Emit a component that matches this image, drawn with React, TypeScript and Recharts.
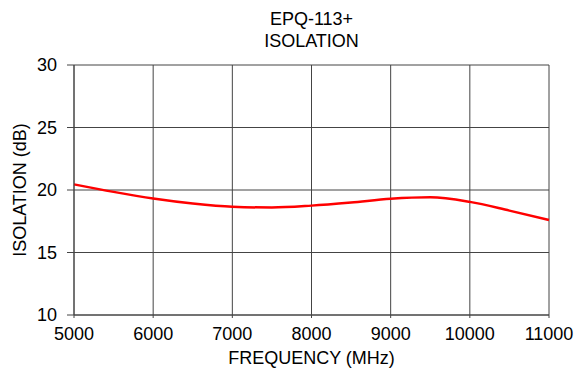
import React from "react";
import { LineChart, Line, XAxis, YAxis, CartesianGrid, Label } from "recharts";

const frequencies = [5000, 5500, 6000, 6500, 7000, 7500, 8000, 8500, 9000, 9500, 10000, 10500, 11000];
const isolation = [20.45, 19.85, 19.32, 18.92, 18.66, 18.6, 18.75, 19.0, 19.3, 19.42, 19.05, 18.35, 17.6];
const xTicks = [5000, 6000, 7000, 8000, 9000, 10000, 11000];
const yTicks = [10, 15, 20, 25, 30];
const titleLines = ["EPQ-113+", "ISOLATION"];

const data = frequencies.map((f, i) => ({ f, v: isolation[i] }));

const FONT = "'Liberation Sans', Arial, sans-serif";

export default function App() {
  return (
    <div style={{ position: "absolute", left: 0, top: 0, width: 577, height: 371, background: "#fff", fontFamily: FONT }}>
      <div style={{ position: "absolute", left: 74, width: 475, top: 8, textAlign: "center", fontSize: 18, lineHeight: "22px", color: "#000" }}>
        {titleLines.map((t) => (
          <div key={t}>{t}</div>
        ))}
      </div>
      <LineChart width={577} height={371} data={data} margin={{ top: 65, right: 28, left: 14, bottom: 26 }}>
        <CartesianGrid stroke="#444" strokeWidth={1} />
        <XAxis
          dataKey="f"
          type="number"
          domain={[5000, 11000]}
          ticks={xTicks}
          height={30}
          tickSize={3}
          tickMargin={9}
          axisLine={{ stroke: "#444" }}
          tickLine={{ stroke: "#444" }}
          tick={{ fill: "#000", fontSize: 18, fontFamily: FONT }}
          interval={0}
        >
          <Label value="FREQUENCY (MHz)" position="insideBottom" offset={-18.5} style={{ fill: "#000", fontSize: 18, fontFamily: FONT }} />
        </XAxis>
        <YAxis
          type="number"
          domain={[10, 30]}
          ticks={yTicks}
          width={60}
          tickSize={7}
          tickMargin={10}
          axisLine={{ stroke: "#444" }}
          tickLine={{ stroke: "#444" }}
          tick={{ fill: "#000", fontSize: 18, fontFamily: FONT }}
          interval={0}
        >
          <Label value="ISOLATION (dB)" angle={-90} position="insideLeft" offset={6} style={{ fill: "#000", fontSize: 18, fontFamily: FONT, textAnchor: "middle" }} />
        </YAxis>
        <Line type="monotone" dataKey="v" stroke="#ff0000" strokeWidth={2.5} dot={false} isAnimationActive={false} />
      </LineChart>
    </div>
  );
}
